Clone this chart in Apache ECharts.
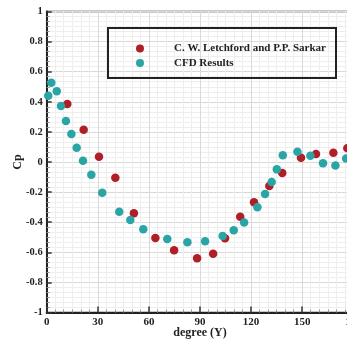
<!DOCTYPE html>
<html><head><meta charset="utf-8">
<script src="https://cdn.jsdelivr.net/npm/echarts@6/dist/echarts.min.js"></script>
<style>html,body{margin:0;padding:0;background:#fff}#c{width:347px;height:341px}</style>
</head><body><div id="c"></div>
<script>
const seriesNames = ['C. W. Letchford and P.P. Sarkar', 'CFD Results'];
const expDeg = [12.1, 21.7, 30.7, 40.3, 51.2, 63.8, 74.8, 88.3, 97.7, 104.7, 113.6, 121.7, 130.7, 138.3, 149.3, 158.1, 168.3, 176.5];
const expCp  = [0.385, 0.215, 0.035, -0.104, -0.340, -0.505, -0.587, -0.640, -0.609, -0.507, -0.363, -0.268, -0.159, -0.073, 0.029, 0.053, 0.062, 0.091];
const cfdDeg = [0.9, 2.7, 5.9, 8.4, 11.3, 14.5, 17.6, 21.3, 26.2, 32.6, 42.6, 49.1, 56.7, 70.8, 82.6, 93.0, 103.3, 109.8, 115.9, 123.7, 128.2, 132.1, 135.1, 138.6, 147.2, 154.8, 162.2, 169.5, 175.8];
const cfdCp  = [0.44, 0.527, 0.47, 0.372, 0.272, 0.186, 0.095, 0.009, -0.084, -0.204, -0.330, -0.385, -0.447, -0.512, -0.534, -0.527, -0.492, -0.454, -0.402, -0.301, -0.213, -0.133, -0.049, 0.045, 0.068, 0.042, -0.009, -0.024, 0.024];
const xTicks = [0, 30, 60, 90, 120, 150, 180];
const yTicks = [-1, -0.8, -0.6, -0.4, -0.2, 0, 0.2, 0.4, 0.6, 0.8, 1];
const xTitle = 'degree (Y)';
const yTitle = 'Cp';

const zip = (a, b) => a.map((v, i) => [v, b[i]]);
const font = 'Liberation Serif, Times New Roman, serif';
const dotPath = 'path://M0,4A4,4,0,1,1,8,4A4,4,0,1,1,0,4ZM33,0L33,8';
const chart = echarts.init(document.getElementById('c'));
chart.setOption({
  animation: false,
  backgroundColor: '#fff',
  grid: { left: 46.7, right: -6.3, top: 11.5, bottom: 28.5, outerBoundsMode: 'none', containLabel: false,
          show: true, borderColor: '#222', borderWidth: 1.5 },
  xAxis: {
    type: 'value', min: xTicks[0], max: xTicks[xTicks.length - 1], interval: 30,
    name: xTitle, nameLocation: 'middle', nameGap: 14, nameMoveOverlap: false,
    nameTextStyle: { fontFamily: font, fontWeight: 'bold', fontSize: 12, color: '#222' },
    axisLine: { onZero: false, lineStyle: { color: '#222', width: 2 } },
    axisTick: { inside: true, length: 6, lineStyle: { color: '#333', width: 1.5 } },
    minorTick: { show: true, splitNumber: 6, length: 3, lineStyle: { color: '#999' } },
    splitLine: { show: true, lineStyle: { color: '#d9d9d9', width: 1 } },
    minorSplitLine: { show: true, lineStyle: { color: '#eeeeee', width: 1 } },
    axisLabel: { fontFamily: font, fontWeight: 'bold', fontSize: 11, color: '#222', margin: 4 }
  },
  yAxis: {
    type: 'value', min: yTicks[0], max: yTicks[yTicks.length - 1], interval: 0.2,
    name: yTitle, nameLocation: 'middle', nameGap: 23, nameMoveOverlap: false,
    nameTextStyle: { fontFamily: font, fontWeight: 'bold', fontSize: 12, color: '#222' },
    axisLine: { onZero: false, lineStyle: { color: '#222', width: 2 } },
    axisTick: { inside: true, length: 5, lineStyle: { color: '#333', width: 1.5 } },
    minorTick: { show: true, splitNumber: 6, length: 3, lineStyle: { color: '#999' } },
    splitLine: { show: true, lineStyle: { color: '#d9d9d9', width: 1 } },
    minorSplitLine: { show: true, lineStyle: { color: '#eeeeee', width: 1 } },
    axisLabel: { fontFamily: font, fontWeight: 'bold', fontSize: 10.5, color: '#222', margin: 4 }
  },
  legend: {
    orient: 'vertical', left: 136, top: 43, itemGap: 3.5, padding: 0,
    itemWidth: 33, itemHeight: 8, icon: dotPath,
    textStyle: { fontFamily: font, fontWeight: 'bold', fontSize: 11, color: '#222' },
    data: seriesNames
  },
  graphic: [{
    type: 'rect', left: 107, top: 27, z: 5,
    shape: { width: 228, height: 50 },
    style: { fill: 'rgba(255,255,255,0)', stroke: '#222', lineWidth: 2 }
  }],
  series: [
    { name: seriesNames[0], type: 'scatter', symbol: 'circle', symbolSize: 8.5, z: 3,
      itemStyle: { color: '#b01f28', opacity: 1 }, data: zip(expDeg, expCp) },
    { name: seriesNames[1], type: 'scatter', symbol: 'circle', symbolSize: 8.5, z: 4,
      itemStyle: { color: '#2aa5a6', opacity: 1 }, data: zip(cfdDeg, cfdCp) }
  ]
});
</script></body></html>
